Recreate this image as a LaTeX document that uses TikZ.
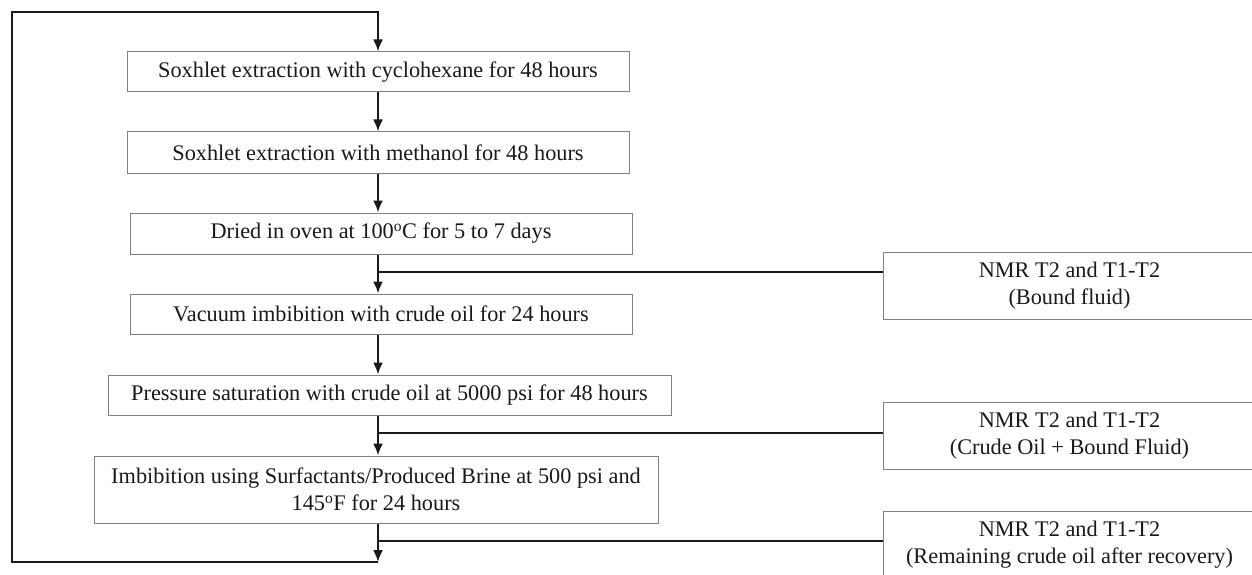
\documentclass[tikz,border=0pt]{standalone}
\usepackage{fontspec}
\setmainfont{Liberation Serif}
\usetikzlibrary{arrows.meta}
\definecolor{boxgray}{gray}{0.5}
\definecolor{inkgray}{gray}{0.1}
\tikzset{
  stepbox/.style={draw=boxgray,line width=1pt,minimum height=40pt,inner sep=0pt,align=center,text=inkgray,font=\fontsize{22.3}{27}\selectfont},
  nmrbox/.style={stepbox,minimum width=373pt,minimum height=67pt},
  flow/.style={draw=inkgray,line width=2.2pt,-{Latex[length=12pt,width=10pt]}},
  link/.style={draw=inkgray,line width=2.2pt}
}
\begin{document}
\begin{tikzpicture}[x=1pt,y=-1pt]
  \useasboundingbox (0,0) rectangle (1252,575);
  % process steps
  \node[stepbox,minimum width=502pt] (s1) at (378,72) {Soxhlet extraction with cyclohexane for 48 hours};
  \node[stepbox,minimum width=502pt,minimum height=41pt] (s2) at (378,152.5) {Soxhlet extraction with methanol for 48 hours};
  \node[stepbox,minimum width=502pt,minimum height=41pt] (s3) at (381,233.5) {Dried in oven at 100\textsuperscript{o}C for 5 to 7 days};
  \node[stepbox,minimum width=502pt] (s4) at (381,314) {Vacuum imbibition with crude oil for 24 hours};
  \node[stepbox,minimum width=563pt] (s5) at (389.5,395) {Pressure saturation with crude oil at 5000 psi for 48 hours};
  \node[stepbox,minimum width=564pt,minimum height=67pt] (s6) at (376,489.5) {Imbibition using Surfactants/Produced Brine at 500 psi and\\145\textsuperscript{o}F for 24 hours};
  % measurements
  \node[nmrbox] (n1) at (1069.5,285.5) {NMR T2 and T1-T2\\(Bound fluid)};
  \node[nmrbox] (n2) at (1069.5,435.5) {NMR T2 and T1-T2\\(Crude Oil + Bound Fluid)};
  \node[nmrbox] (n3) at (1069.5,544.5) {NMR T2 and T1-T2\\(Remaining crude oil after recovery)};
  % connectors
  \coordinate (sp) at (378,0);
  \coordinate (j1) at (378,272);
  \coordinate (j2) at (378,433);
  \coordinate (j3) at (378,541);
  \coordinate (lb) at (378,562);
  \coordinate (tl) at (12,12);
  \foreach \a/\b in {s1/s2,s2/s3,s3/s4,s4/s5,s5/s6}{\draw[flow] (\a.south -| sp) -- (\b.north -| sp);}
  \foreach \j/\n in {j1/n1,j2/n2,j3/n3}{\draw[link] (\j) -- (\j -| \n.west);}
  \draw[flow] (s6.south -| sp) -- (lb);
  \draw[flow] (lb) -| (tl) -| (s1.north -| sp);
\end{tikzpicture}
\end{document}
